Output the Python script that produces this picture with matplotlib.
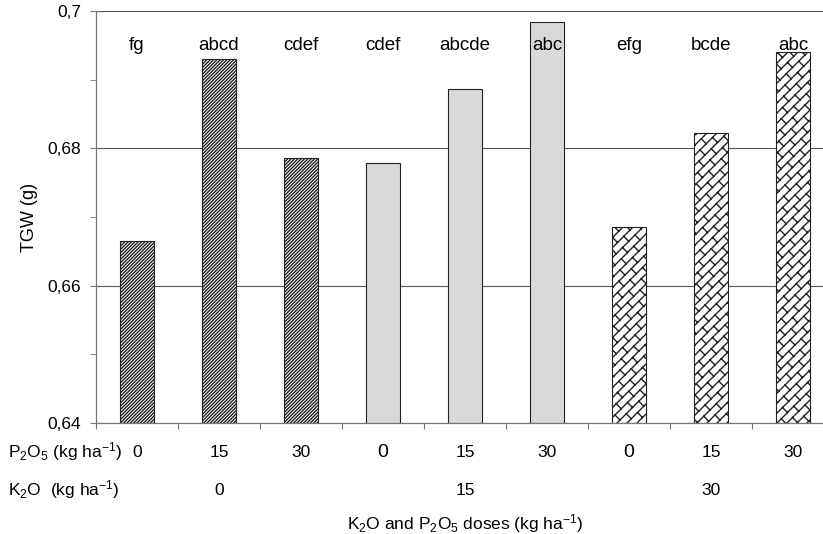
import numpy as np
import matplotlib
matplotlib.use('Agg')
from matplotlib import pyplot as plt
import matplotlib.hatch as mhatch
from matplotlib.path import Path
from matplotlib.ticker import MultipleLocator, FixedLocator, FuncFormatter

# TGW for the 9 K2O x P2O5 treatments
k2o_doses = ['0', '15', '30']
p2o5_doses = ['0', '15', '30', '0', '15', '30', '0', '15', '30']
tgw = [0.6665, 0.6930, 0.6786, 0.6779, 0.6886, 0.6984, 0.6685, 0.6822, 0.6941]
letters = ['fg', 'abcd', 'cdef', 'cdef', 'abcde', 'abc', 'efg', 'bcde', 'abc']


# diagonal brick hatch (replaces the big circles 'O')
class BrickHatch(mhatch.HatchPatternBase):
    def __init__(self, hatch, density):
        self.rows = 10 if 'O' in hatch else 0
        self.per_row = 8
        if self.rows:
            self.num_vertices = 2 * ((2 * self.rows + 1) + self.rows * self.per_row * 9)
        else:
            self.num_vertices = 0

    def set_vertices_and_codes(self, vertices, codes):
        n, m = self.rows, self.per_row
        shift = 0.5 / m - 0.5 / n  # staggers the joints row to row
        segs = []
        for k in range(-n, n + 1):
            segs.append(((0, k / n), (1, 1 + k / n)))
        for k in range(n):
            for j in range(m):
                t = (j / m + k * shift) % 1
                x0, y0 = t, (t + k / n) % 1
                x1, y1 = x0 - 0.5 / n, y0 + 0.5 / n
                for dx in (-1, 0, 1):
                    for dy in (-1, 0, 1):
                        segs.append(((x0 + dx, y0 + dy), (x1 + dx, y1 + dy)))
        vertices[:] = np.array(segs).reshape(-1, 2)
        codes[0::2] = Path.MOVETO
        codes[1::2] = Path.LINETO


mhatch._hatch_types = [h for h in mhatch._hatch_types if h is not mhatch.LargeCircles] + [BrickHatch]

plt.rcParams['font.family'] = ['Liberation Sans', 'DejaVu Sans']
plt.rcParams['mathtext.default'] = 'regular'
plt.rcParams['hatch.linewidth'] = 1.0

fig = plt.figure(figsize=(8.23, 5.34), dpi=100)
ax = fig.add_axes([96 / 823, 111 / 534, 738 / 823, 412 / 534])

x = np.arange(len(tgw))
styles = [('white', '/' * 10), ('#d9d9d9', None), ('white', 'O')]
for i in range(len(tgw)):
    fc, hatch = styles[i // 3]
    ax.bar(x[i], tgw[i] - 0.64, bottom=0.64, width=0.42, color=fc,
           edgecolor='#222222', linewidth=0.8, hatch=hatch, zorder=2)
    ax.text(x[i], 0.695, letters[i], ha='center', va='center', fontsize=13.5, zorder=4)

ax.set_xlim(-0.5, len(tgw) - 0.5)
ax.set_ylim(0.64, 0.70)
ax.yaxis.set_major_locator(MultipleLocator(0.02))
ax.yaxis.set_minor_locator(FixedLocator([0.65, 0.67, 0.69]))
ax.yaxis.set_major_formatter(FuncFormatter(lambda v, p: ('%g' % round(v, 2)).replace('.', ',')))
ax.yaxis.grid(True, color='#555555', linewidth=0.8)
ax.set_axisbelow(True)

ax.set_xticks(np.arange(len(tgw) + 1) - 0.5)
ax.set_xticklabels([])
ax.tick_params(axis='x', direction='out', length=4, color='#777777')
ax.tick_params(axis='y', which='both', direction='out', length=4.5, color='#777777',
               labelsize=12.5, pad=6)

for s in ['top', 'right']:
    ax.spines[s].set_visible(False)
for s in ['left', 'bottom']:
    ax.spines[s].set_color('#777777')
    ax.spines[s].set_linewidth(0.9)

ax.set_ylabel('TGW (g)', fontsize=13)
ax.yaxis.set_label_coords(-0.079, 0.5)

# dose rows under the axis
trans = ax.get_xaxis_transform()
fig.text(8 / 823, 1 - 452 / 534, r'P$_2$O$_5$ (kg ha$^{-1}$)', ha='left', va='center', fontsize=12.5)
fig.text(8 / 823, 1 - 490 / 534, r'K$_2$O  (kg ha$^{-1}$)', ha='left', va='center', fontsize=12.5)
for i, d in enumerate(p2o5_doses):
    fs = 14 if (d == '0' and i > 0) else 12.5
    ax.text(x[i], -0.072, d, ha='center', va='center', fontsize=fs, transform=trans)
for j, d in enumerate(k2o_doses):
    ax.text(x[3 * j + 1], -0.164, d, ha='center', va='center', fontsize=12.5, transform=trans)
ax.text(x[4], -0.245, r'K$_2$O and P$_2$O$_5$ doses (kg ha$^{-1}$)', ha='center', va='center',
        fontsize=12.5, transform=trans)

plt.savefig('out.png', dpi=100)
